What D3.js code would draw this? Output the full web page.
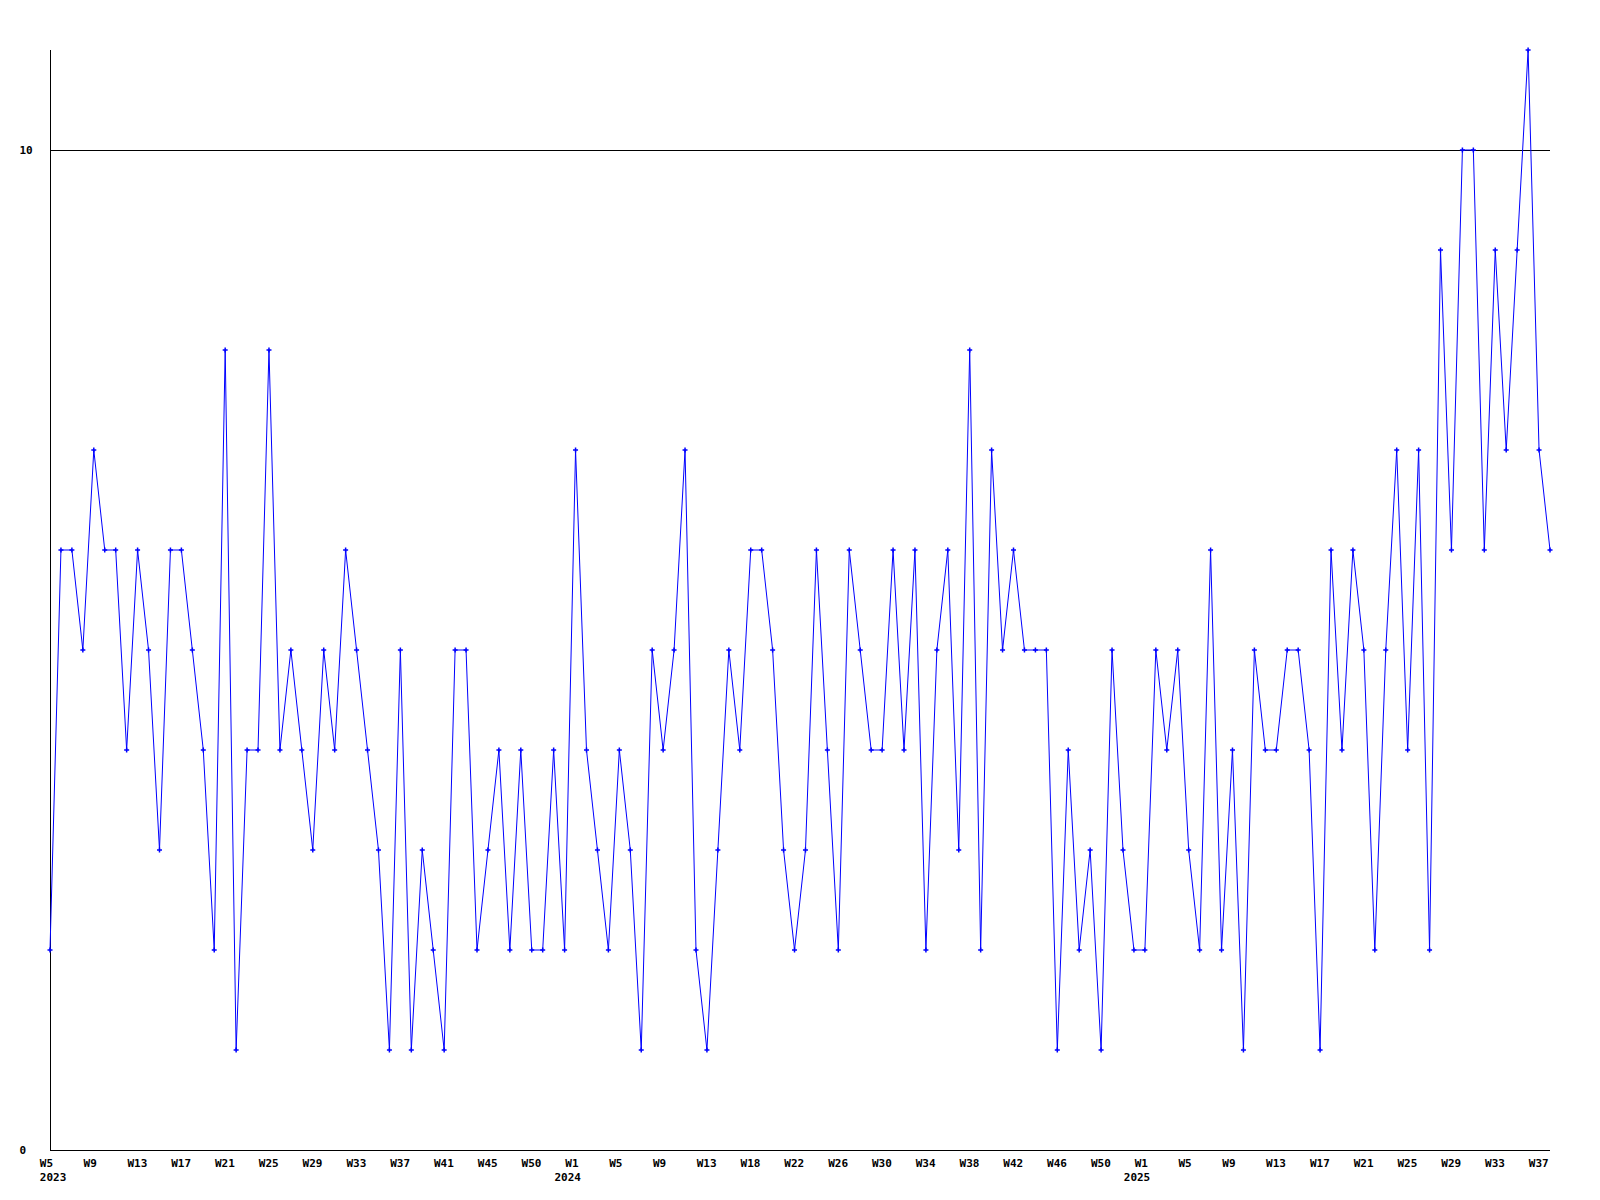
<!DOCTYPE html>
<html>
<head>
<meta charset="utf-8">
<script src="https://cdn.jsdelivr.net/npm/d3@7"></script>
<style>
  html, body { margin: 0; padding: 0; background: #ffffff; }
  svg { display: block; }
  text { font-family: "DejaVu Sans Mono", "Liberation Mono", monospace; font-weight: bold; font-size: 11px; fill: #000; }
</style>
</head>
<body>
<svg id="chart" width="1600" height="1200"></svg>
<script>
// Weekly values, one per data point (W5 2023 ... W38 2025)
const values = [
  2, 6, 6, 5, 7, 6, 6, 4, 6, 5,
  3, 6, 6, 5, 4, 2, 8, 1, 4, 4,
  8, 4, 5, 4, 3, 5, 4, 6, 5, 4,
  3, 1, 5, 1, 3, 2, 1, 5, 5, 2,
  3, 4, 2, 4, 2, 2, 4, 2, 7, 4,
  3, 2, 4, 3, 1, 5, 4, 5, 7, 2,
  1, 3, 5, 4, 6, 6, 5, 3, 2, 3,
  6, 4, 2, 6, 5, 4, 4, 6, 4, 6,
  2, 5, 6, 3, 8, 2, 7, 5, 6, 5,
  5, 5, 1, 4, 2, 3, 1, 5, 3, 2,
  2, 5, 4, 5, 3, 2, 6, 2, 4, 1,
  5, 4, 4, 5, 5, 4, 1, 6, 4, 6,
  5, 2, 5, 7, 4, 7, 2, 9, 6, 10,
  10, 6, 9, 7, 9, 11, 7, 6
];

// Week tick labels: point index and label
const weekTickIndex = [0, 4, 8, 12, 16, 20, 24, 28, 32, 36, 40, 44,
  48, 52, 56, 60, 64, 68, 72, 76, 80, 84, 88, 92, 96,
  100, 104, 108, 112, 116, 120, 124, 128, 132, 136];
const weekTickLabel = ["W5", "W9", "W13", "W17", "W21", "W25", "W29", "W33", "W37", "W41", "W45", "W50",
  "W1", "W5", "W9", "W13", "W18", "W22", "W26", "W30", "W34", "W38", "W42", "W46", "W50",
  "W1", "W5", "W9", "W13", "W17", "W21", "W25", "W29", "W33", "W37"];

// Year labels: point index of the first week of each year
const yearIndex = [0, 47, 99];
const yearLabel = ["2023", "2024", "2025"];

// Y-axis tick values and reference line
const yTicks = [0, 10];
const refLineValue = 10;
const yMax = 11;

(function () {
const svg = d3.select("#chart");
const plotLeft = 50, plotRight = 1550, plotTop = 50, plotBottom = 1150;

const x = d3.scaleLinear().domain([0, values.length - 1]).range([plotLeft, plotRight]);
const y = d3.scaleLinear().domain([0, yMax]).range([plotBottom, plotTop]);

const labelStyle = sel => sel
  .style("font-family", "'DejaVu Sans Mono', monospace")
  .style("font-weight", "bold")
  .style("font-size", "11px")
  .attr("fill", "#000");

// Axis lines
svg.append("line")
  .attr("x1", plotLeft + 0.5).attr("x2", plotLeft + 0.5)
  .attr("y1", plotTop).attr("y2", plotBottom + 0.5)
  .attr("stroke", "#000").attr("stroke-width", 1)
  .attr("shape-rendering", "crispEdges");
svg.append("line")
  .attr("x1", plotLeft).attr("x2", plotRight)
  .attr("y1", plotBottom + 0.5).attr("y2", plotBottom + 0.5)
  .attr("stroke", "#000").attr("stroke-width", 1)
  .attr("shape-rendering", "crispEdges");

// Reference line at 10
svg.append("line")
  .attr("x1", plotLeft).attr("x2", plotRight)
  .attr("y1", Math.round(y(refLineValue)) + 0.5).attr("y2", Math.round(y(refLineValue)) + 0.5)
  .attr("stroke", "#000").attr("stroke-width", 1)
  .attr("shape-rendering", "crispEdges");

// Y axis labels
const yAxis = d3.axisLeft(y).tickValues(yTicks).tickSize(0).tickFormat(d3.format("d"));
const gy = svg.append("g").attr("transform", `translate(${plotLeft},0)`).call(yAxis);
gy.select(".domain").remove();
gy.selectAll("text")
  .attr("x", 19.5 - plotLeft)
  .attr("dy", "0.35em")
  .attr("text-anchor", "start")
  .call(labelStyle);

// X axis week labels
const xAxis = d3.axisBottom(x).tickValues(weekTickIndex).tickSize(0)
  .tickFormat((d, i) => weekTickLabel[i]);
const gx = svg.append("g").attr("transform", `translate(0,${plotBottom})`).call(xAxis);
gx.select(".domain").remove();
gx.selectAll("text")
  .attr("y", 13)
  .attr("dy", "0.35em")
  .attr("dx", -10.7)
  .attr("text-anchor", "start")
  .call(labelStyle);

// Year labels
const xYear = d3.axisBottom(x).tickValues(yearIndex).tickSize(0)
  .tickFormat((d, i) => yearLabel[i]);
const gyr = svg.append("g").attr("transform", `translate(0,${plotBottom})`).call(xYear);
gyr.select(".domain").remove();
gyr.selectAll("text")
  .attr("y", 27)
  .attr("dy", "0.35em")
  .attr("dx", -10.7)
  .attr("text-anchor", "start")
  .call(labelStyle);

// Data line
const line = d3.line().x((d, i) => x(i)).y(d => y(d));
svg.append("path")
  .datum(values)
  .attr("d", line)
  .attr("fill", "none")
  .attr("stroke", "#0000ff")
  .attr("stroke-width", 1);

// Markers (small plus signs)
svg.append("g").selectAll("path")
  .data(values)
  .join("path")
  .attr("d", (d, i) => {
    const cx = x(i), cy = y(d);
    return `M${cx - 2.5},${cy}H${cx + 2.5}M${cx},${cy - 2.5}V${cy + 2.5}`;
  })
  .attr("stroke", "#0000ff")
  .attr("stroke-width", 1.5)
  .attr("fill", "none");
})();
</script>
</body>
</html>
